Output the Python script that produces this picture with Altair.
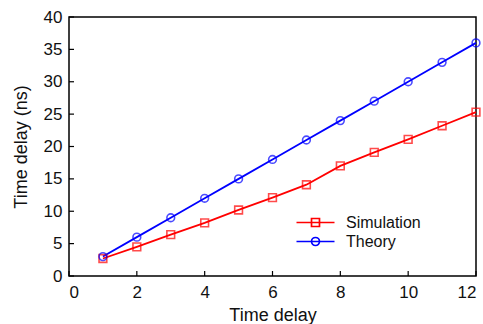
import altair as alt
import pandas as pd

# ---- data ----
x_vals = [1, 2, 3, 4, 5, 6, 7, 8, 9, 10, 11, 12]
simulation = [2.7, 4.5, 6.4, 8.2, 10.2, 12.1, 14.1, 17.0, 19.1, 21.1, 23.2, 25.3]
theory = [3, 6, 9, 12, 15, 18, 21, 24, 27, 30, 33, 36]
series_names = ["Simulation", "Theory"]
series_colors = ["#ff0000", "#0000ff"]
x_ticks = [0, 2, 4, 6, 8, 10, 12]
y_ticks = [0, 5, 10, 15, 20, 25, 30, 35, 40]

FONT = "Liberation Sans"
W, H = 407, 259

wide = pd.DataFrame({"x": x_vals, "Simulation": simulation, "Theory": theory})
long = pd.DataFrame({
    "x": x_vals * 2,
    "y": simulation + theory,
    "series": [series_names[0]] * len(x_vals) + [series_names[1]] * len(x_vals),
})
xt = pd.DataFrame({"v": x_ticks})
yt = pd.DataFrame({"v": y_ticks})

xs = alt.Scale(domain=[0, 12], nice=False)
ys = alt.Scale(domain=[0, 40], nice=False)

x_axis = alt.Axis(values=x_ticks, title="Time delay", format="d", labelPadding=8, titlePadding=6)
y_axis = alt.Axis(values=y_ticks, title="Time delay (ns)", format="d", labelPadding=7, titlePadding=13)


def X(field):
    return alt.X(field, scale=xs, axis=x_axis, title="Time delay")


def Y(field):
    return alt.Y(field, scale=ys, axis=y_axis, title="Time delay (ns)")


base = alt.Chart(wide)

sim_line = base.mark_line(color=series_colors[0], strokeWidth=1.8).encode(x=X("x:Q"), y=Y("Simulation:Q"))
th_line = base.mark_line(color=series_colors[1], strokeWidth=1.8).encode(x=X("x:Q"), y=Y("Theory:Q"))
sim_pts = base.mark_point(shape="square", filled=False, color=series_colors[0], size=60, strokeWidth=1.6).encode(
    x=X("x:Q"), y=Y("Simulation:Q"))
th_pts = base.mark_point(shape="circle", filled=False, color=series_colors[1], size=60, strokeWidth=1.6).encode(
    x=X("x:Q"), y=Y("Theory:Q"))

# legend symbol: horizontal line with marker (size 361 -> unit = 9.5 px)
r = 0.42
sq_path = f"M-2,0H2M-{r},-{r}H{r}V{r}H-{r}Z"
ci_path = f"M-2,0H2M{r},0A{r},{r},0,1,1,-{r},0A{r},{r},0,1,1,{r},0Z"

leg = alt.Legend(orient="none", legendX=236, legendY=195, title=None, labelFont=FONT,
                 labelFontSize=16, labelColor="#111111", symbolOpacity=1, symbolStrokeWidth=1.7,
                 symbolSize=361, labelOffset=20, rowPadding=-2, symbolFillColor="transparent")

legend_layer = alt.Chart(long).mark_point(opacity=0, filled=False, size=361, strokeWidth=1.7).encode(
    x=X("x:Q"),
    y=Y("y:Q"),
    color=alt.Color("series:N", scale=alt.Scale(domain=series_names, range=series_colors), legend=leg),
    shape=alt.Shape("series:N", scale=alt.Scale(domain=series_names, range=[sq_path, ci_path]), legend=leg),
)

xtick_layer = alt.Chart(xt).mark_rule(color="black", strokeWidth=1.2).encode(
    x=X("v:Q"), y=alt.value(H), y2=alt.value(H - 5))
ytick_layer = alt.Chart(yt).mark_rule(color="black", strokeWidth=1.2).encode(
    y=Y("v:Q"), x=alt.value(0), x2=alt.value(5))

chart = alt.layer(sim_line, th_line, sim_pts, th_pts, legend_layer, xtick_layer, ytick_layer).properties(
    width=W, height=H,
    autosize=alt.AutoSizeParams(type="none"),
    padding={"left": 69, "top": 17, "right": 7, "bottom": 48},
).configure_view(stroke="black", strokeWidth=1.5).configure_axis(
    domain=False, ticks=False, grid=False,
    labelFont=FONT, labelFontSize=17, labelColor="#111111",
    titleFont=FONT, titleFontSize=18, titleFontWeight="normal", titleColor="#111111",
)

chart.save("out.html", embed_options={"renderer": "svg", "actions": False})
